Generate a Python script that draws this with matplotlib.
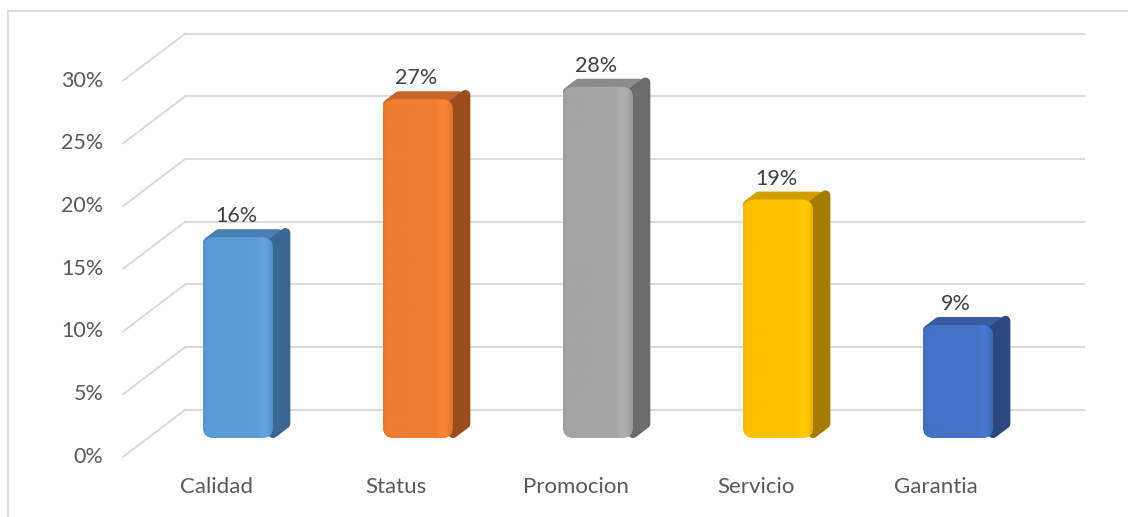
import numpy as np
import matplotlib
matplotlib.use('Agg')
import matplotlib.pyplot as plt
from matplotlib.patches import Polygon, FancyBboxPatch
from matplotlib.lines import Line2D
from matplotlib.colors import to_rgb

categories = ['Calidad', 'Status', 'Promocion', 'Servicio', 'Garantia']
values = [16, 27, 28, 19, 9]
value_labels = ['16%', '27%', '28%', '19%', '9%']
yticks = [0, 5, 10, 15, 20, 25, 30]

front_colors = ['#5B9BD5', '#ED7D31', '#A5A5A5', '#FFC000', '#4472C4']
top_colors = ['#4A7FB4', '#C4672A', '#8C8C8C', '#D39F00', '#375CA0']
side_colors = ['#3A6892', '#9A4E1D', '#6C6C6C', '#A67C00', '#2A4780']

TEXT = '#595959'
LABEL = '#404040'
GRID = '#D9D9D9'
FONT = 'Lato'

W, H = 1128, 517
fig = plt.figure(figsize=(W / 100, H / 100), dpi=100)
ax = fig.add_axes([0, 0, 1, 1])

# scale of the plane the bar fronts stand in
px_x, px_y = 180.0, 12.54
x0_px, y0_px = 238.0, 438.0

# depth: 0 = front edge of the floor, 1 = back wall
DEPTH_DX, DEPTH_DY = 62.0, 47.0
BAR_D0, BAR_D1 = 0.4, 0.68
half_w = 35 / px_x
EDGE = 10  # px, rounded stroke on the side and top faces
ins = EDGE / 2


def proj(x, v, d):
    return (x + (d - BAR_D0) * DEPTH_DX / px_x,
            v + (d - BAR_D0) * DEPTH_DY / px_y)


# back wall lines and floor diagonals
x_left, x_right = -0.5, len(categories) - 0.5
for t in yticks:
    bx0, by = proj(x_left, t, 1)
    bx1, _ = proj(x_right, t, 1)
    fx, fy = proj(x_left, t, 0)
    ax.plot([bx0, bx1], [by, by], color=GRID, lw=1.3, zorder=1,
            solid_capstyle='butt')
    ax.plot([fx, bx0], [fy, by], color=GRID, lw=1.3, zorder=1)
    ax.annotate('%d%%' % t, (fx, fy), xytext=(-20, 0), textcoords='offset pixels',
                ha='right', va='center', fontsize=15.5, color=TEXT, family=FONT)

for i, (v, lab) in enumerate(zip(values, value_labels)):
    xl, xr = i - half_w, i + half_w
    # side and top faces are inset, then stroked thick with round joins
    d_side = BAR_D1 - ins / DEPTH_DX
    side = Polygon([proj(xr, ins / px_y, BAR_D0), proj(xr, ins / px_y, d_side),
                    proj(xr, v - ins / px_y, d_side), proj(xr, v - ins / px_y, BAR_D0)],
                   closed=True, facecolor=side_colors[i], edgecolor=side_colors[i],
                   lw=EDGE * 0.72, joinstyle='round', zorder=3)
    d_top = BAR_D1 - ins / DEPTH_DY
    top = Polygon([proj(xl + ins / px_x, v - ins / px_y, BAR_D0),
                   proj(xl + ins / px_x, v - ins / px_y, d_top),
                   proj(xr - ins / px_x, v - ins / px_y, d_top),
                   proj(xr - ins / px_x, v - ins / px_y, BAR_D0)],
                  closed=True, facecolor=top_colors[i], edgecolor=top_colors[i],
                  lw=EDGE * 0.72, joinstyle='round', zorder=3)
    ax.add_patch(top)
    ax.add_patch(side)

    face = FancyBboxPatch((xl, 0), 2 * half_w, v,
                          boxstyle='round,pad=0,rounding_size=%f' % (11 / px_x),
                          mutation_aspect=px_x / px_y,
                          facecolor=front_colors[i], edgecolor='none', zorder=4)
    ax.add_patch(face)

    # soft shading across the face, brighter band near the right edge
    s = np.linspace(0, 1, 80)
    prof = (1.0 + 0.06 * np.exp(-((s - 0.86) / 0.08) ** 2)
            - 0.08 * np.clip((s - 0.93) / 0.07, 0, 1)
            - 0.04 * np.clip((0.06 - s) / 0.06, 0, 1))
    rgb = np.clip(np.array(to_rgb(front_colors[i]))[None, None, :] * prof[None, :, None], 0, 1)
    im = ax.imshow(rgb, extent=(xl, xr, 0, v), aspect='auto', zorder=5,
                   interpolation='bilinear')
    im.set_clip_path(face)

    ax.annotate(lab, (i, v), xytext=(-2, 21), textcoords='offset pixels',
                ha='center', va='center', fontsize=15.5, color=LABEL, family=FONT,
                zorder=6)

    cx, cy = proj(i, 0, 0)
    ax.annotate(categories[i], (cx, cy), xytext=(3, -30), textcoords='offset pixels',
                ha='center', va='center', fontsize=16, color=TEXT, family=FONT)

ax.set_xlim(-x0_px / px_x, (W - x0_px) / px_x)
ax.set_ylim(-(H - y0_px) / px_y, y0_px / px_y)
ax.axis('off')

# chart area border (left and top edges)
fig.add_artist(Line2D([8 / W, 8 / W], [0, 1 - 11 / H], color=GRID, lw=1.2))
fig.add_artist(Line2D([8 / W, 1], [1 - 11 / H, 1 - 11 / H], color=GRID, lw=1.2))

fig.savefig('out.png', dpi=100, facecolor='white')
